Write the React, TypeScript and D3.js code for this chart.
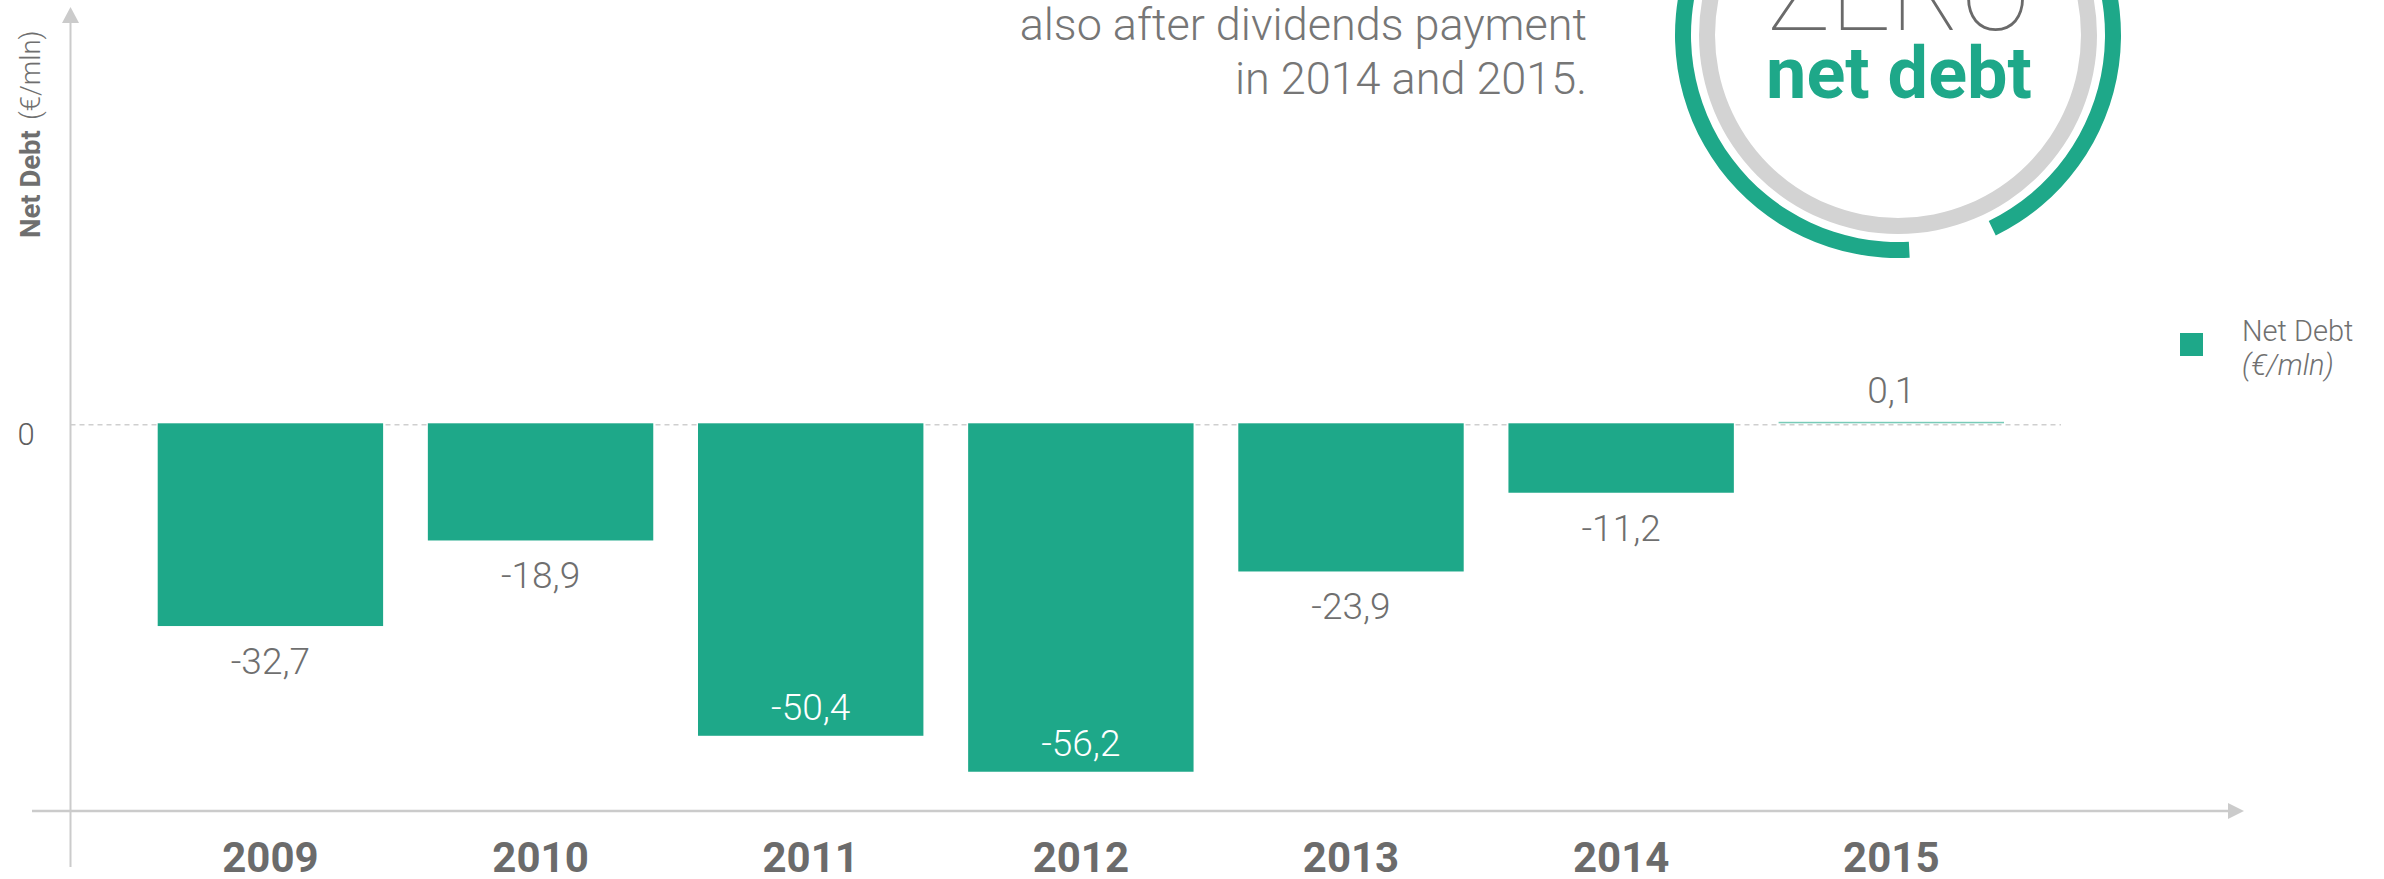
import React from "react";
import * as d3 from "d3";

const years = ["2009", "2010", "2011", "2012", "2013", "2014", "2015"];
const netDebt = [-32.7, -18.9, -50.4, -56.2, -23.9, -11.2, 0.1];
const valueLabels = ["-32,7", "-18,9", "-50,4", "-56,2", "-23,9", "-11,2", "0,1"];
const yTickValues = [0];
const yTickLabels = ["0"];
const headlineLines = ["also after dividends payment", "in 2014 and 2015."];
const legendLabel = "Net Debt";
const legendUnit = "(€/mln)";

const GREEN = "#1ea889";
const GREY_TEXT = "#6f6f6f";
const AXIS = "#cbcbcb";
const FONT = "Roboto, 'Noto Sans', sans-serif";

export default function App() {
  React.useEffect(() => {
    document.body.style.margin = "0";
  }, []);

  const W = 2384;
  const H = 879;

  const x = d3
    .scaleBand<string>()
    .domain(years)
    .range([157.7, 2004])
    .paddingInner(0.1656)
    .paddingOuter(0);

  const y = d3.scaleLinear().domain([-62.5, 0]).range([810.8, 423.3]);
  const y0 = y(0);

  const arcGreen = d3.arc()({
    innerRadius: 207,
    outerRadius: 223,
    startAngle: (177 * Math.PI) / 180,
    endAngle: ((154 + 360) * Math.PI) / 180,
  } as any) as string;
  const arcGrey = d3.arc()({
    innerRadius: 183,
    outerRadius: 199,
    startAngle: 0,
    endAngle: 2 * Math.PI,
  } as any) as string;

  const axisX0 = 70.5;

  return (
    <svg
      width={W}
      height={H}
      style={{ position: "absolute", left: 0, top: 0, display: "block" }}
      fontFamily={FONT}
    >
      <rect width={W} height={H} fill="#fff" />

      {/* headline text */}
      {headlineLines.map((t, i) => (
        <text
          key={i}
          x={1587}
          y={40 + i * 54}
          textAnchor="end"
          fontSize={45}
          fontWeight={300}
          fill="#767676"
        >
          {t}
        </text>
      ))}

      {/* badge */}
      <g transform="translate(1898,35)">
        <path d={arcGreen} fill={GREEN} />
        <path d={arcGrey} fill="#d3d3d3" />
        <text
          x={1}
          y={-5}
          textAnchor="middle"
          fontSize={106}
          fontWeight={100}
          fill="#6a6a6a"
        >
          ZERO
        </text>
        <text
          x={1}
          y={63}
          textAnchor="middle"
          fontSize={72}
          fontWeight={700}
          fill={GREEN}
        >
          net debt
        </text>
      </g>

      {/* zero dashed line */}
      <line
        x1={axisX0}
        x2={2061}
        y1={y0 + 1.5}
        y2={y0 + 1.5}
        stroke="#cfcfcf"
        strokeWidth={1.5}
        strokeDasharray="5,4"
      />

      {/* bars */}
      {years.map((yr, i) => {
        const v = netDebt[i];
        const top = Math.min(y(v), y0);
        const tiny = Math.abs(y(v) - y0) < 1;
        const h = tiny ? 1.5 : Math.abs(y(v) - y0);
        return (
          <rect
            key={yr}
            x={x(yr)}
            y={tiny ? y0 - 1.5 : top}
            width={x.bandwidth()}
            height={h}
            fill={GREEN}
            fillOpacity={tiny ? 0.6 : 1}
          />
        );
      })}

      {/* value labels */}
      {years.map((yr, i) => {
        const v = netDebt[i];
        const cx = (x(yr) as number) + x.bandwidth() / 2;
        let ly: number;
        let fill = GREY_TEXT;
        if (v >= 0) {
          ly = y(v) - 20;
        } else if (y(v) + 48 > 700) {
          ly = y(v) - 16;
          fill = "#ffffff";
        } else {
          ly = y(v) + 48;
        }
        return (
          <text
            key={yr}
            x={cx}
            y={ly}
            textAnchor="middle"
            fontSize={37}
            fontWeight={300}
            fill={fill}
          >
            {valueLabels[i]}
          </text>
        );
      })}

      {/* y axis */}
      <line x1={axisX0} x2={axisX0} y1={867} y2={22} stroke={AXIS} strokeWidth={2} />
      <path d={`M${axisX0 - 8.5},23 L${axisX0},7 L${axisX0 + 8.5},23 Z`} fill={AXIS} />

      {/* x axis */}
      <line x1={32} x2={2229} y1={811} y2={811} stroke={AXIS} strokeWidth={2.5} />
      <path d="M2228,803 L2244,811 L2228,819 Z" fill={AXIS} />

      {/* y ticks */}
      {yTickValues.map((t, i) => (
        <text
          key={i}
          x={26}
          y={y(t) + 22}
          textAnchor="middle"
          fontSize={31}
          fontWeight={300}
          fill="#5f5f5f"
        >
          {yTickLabels[i]}
        </text>
      ))}

      {/* y axis title */}
      <text
        transform="translate(40,238) rotate(-90)"
        fontSize={27.5}
        fill={GREY_TEXT}
      >
        <tspan fontWeight={700}>Net Debt</tspan>
        <tspan fontWeight={300} dx={10}>
          (€/mln)
        </tspan>
      </text>

      {/* x labels */}
      {years.map((yr) => (
        <text
          key={yr}
          x={(x(yr) as number) + x.bandwidth() / 2}
          y={872}
          textAnchor="middle"
          fontSize={42}
          fontWeight={700}
          fill="#6b6b6b"
        >
          {yr}
        </text>
      ))}

      {/* legend */}
      <rect x={2180} y={333} width={23} height={23} fill={GREEN} />
      <text x={2242} y={341} fontSize={29} fontWeight={300} fill="#707070">
        {legendLabel}
      </text>
      <text
        x={2242}
        y={375}
        fontSize={29}
        fontWeight={300}
        fontStyle="italic"
        fill="#707070"
      >
        {legendUnit}
      </text>
    </svg>
  );
}
